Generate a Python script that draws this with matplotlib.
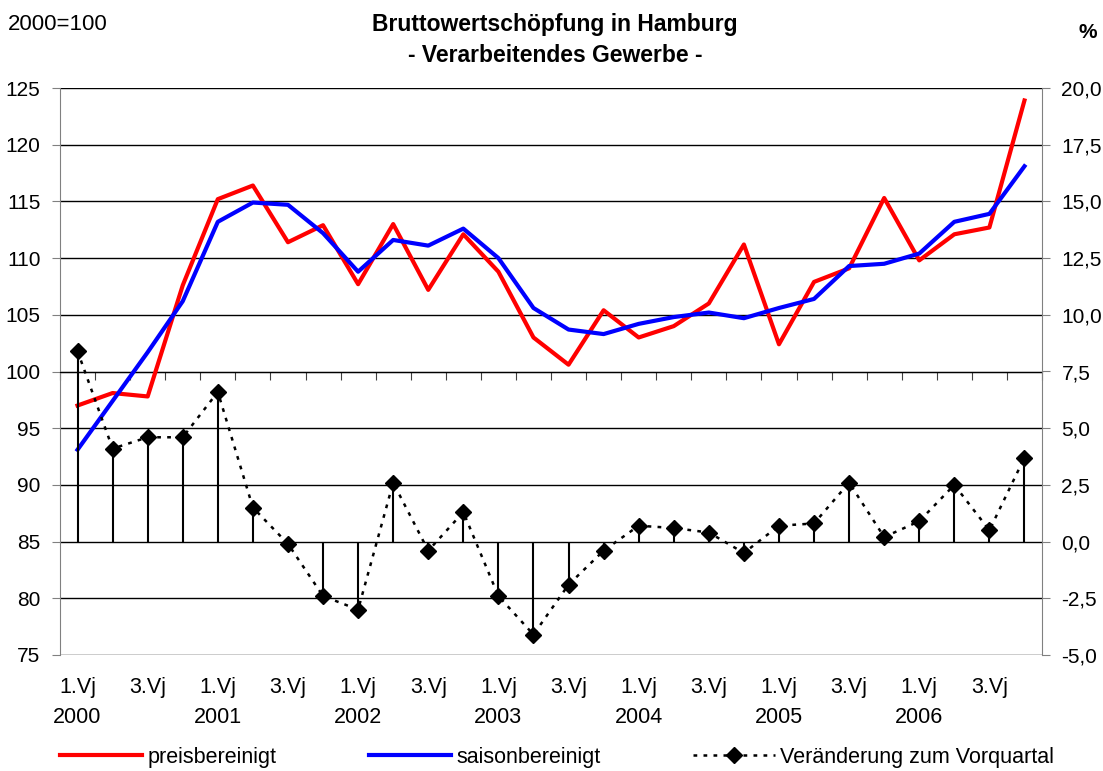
import numpy as np
import matplotlib
matplotlib.use("Agg")
import matplotlib.pyplot as plt
from matplotlib.lines import Line2D
from matplotlib.ticker import FuncFormatter

plt.rcParams['font.family'] = ['Liberation Sans', 'DejaVu Sans']

# Quartale 2000 Q1 .. 2006 Q4
years = ['2000', '2001', '2002', '2003', '2004', '2005', '2006']
quarter_names = ['1.Vj', '', '3.Vj', '']

# 2000=100
preisbereinigt = [97.0, 98.1, 97.8, 107.6, 115.2, 116.4, 111.4, 112.9, 107.7, 113.0,
                  107.2, 112.1, 108.8, 103.0, 100.6, 105.4, 103.0, 104.0, 106.0, 111.2,
                  102.4, 107.9, 109.1, 115.3, 109.8, 112.1, 112.7, 123.9]
saisonbereinigt = [93.1, 97.4, 101.7, 106.2, 113.2, 114.9, 114.7, 112.2, 108.8, 111.6,
                   111.1, 112.6, 110.0, 105.6, 103.7, 103.3, 104.2, 104.8, 105.2, 104.7,
                   105.6, 106.4, 109.3, 109.5, 110.4, 113.2, 113.9, 118.1]
# Veränderung zum Vorquartal in %
veraenderung = [8.4, 4.1, 4.6, 4.6, 6.6, 1.5, -0.1, -2.4, -3.0, 2.6,
                -0.4, 1.3, -2.4, -4.1, -1.9, -0.4, 0.7, 0.6, 0.4, -0.5,
                0.7, 0.8, 2.6, 0.2, 0.9, 2.5, 0.5, 3.7]

n = len(preisbereinigt)
x = np.arange(n)

W, H = 1103, 771
fig = plt.figure(figsize=(W / 100, H / 100), dpi=100)
ax = fig.add_axes([60 / W, 1 - 655 / H, 982 / W, 567 / H])

ax.plot(x, preisbereinigt, color='#ff0000', lw=3, zorder=3)
ax.plot(x, saisonbereinigt, color='#0000ff', lw=3, zorder=3)

ax.set_xlim(-0.5, n - 0.5)
ax.set_ylim(75, 125)
ax.set_yticks(np.arange(75, 126, 5))
ax.yaxis.grid(True, color='black', lw=1)
ax.set_axisbelow(True)
ax.tick_params(axis='y', direction='out', length=6, labelsize=15, pad=8, color='#808080')

# Rubrikenachse kreuzt bei 100
ax.spines['bottom'].set_position(('data', 100))
ax.spines['bottom'].set_color('black')
ax.set_xticks(np.arange(-0.5, n, 1))
ax.set_xticklabels([])
ax.tick_params(axis='x', direction='out', length=6, color='#404040')
ax.spines['top'].set_visible(False)
ax.spines['right'].set_visible(False)
ax.spines['left'].set_color('#808080')

# Beschriftung unten
tr = ax.get_xaxis_transform()
for i in range(n):
    q = quarter_names[i % 4]
    if q:
        ax.text(i, -0.058, q, transform=tr, ha='center', va='center', fontsize=15.5)
    if i % 4 == 0:
        ax.text(i, -0.111, years[i // 4], transform=tr, ha='center', va='center', fontsize=15.5)

ax2 = ax.twinx()
ax2.set_ylim(-5, 20)
ax2.set_yticks(np.arange(-5, 20.1, 2.5))
ax2.yaxis.set_major_formatter(FuncFormatter(lambda v, p: f"{v:.1f}".replace('.', ',')))
ax2.tick_params(axis='y', direction='out', length=6, labelsize=15, pad=8, color='#808080')
for s in ['top', 'bottom', 'left']:
    ax2.spines[s].set_visible(False)
ax2.spines['right'].set_color('#808080')

ax2.vlines(x, 0, veraenderung, color='black', lw=1.5, zorder=2)
ax2.plot(x, veraenderung, color='black', lw=1.8, linestyle=(0, (1.5, 2.5)),
         marker='D', ms=8, zorder=4)

fig.text(555 / W, 1 - 24 / H, 'Bruttowertschöpfung in Hamburg', ha='center', va='center',
         fontsize=16.5, fontweight='bold')
fig.text(555 / W, 1 - 56 / H, '- Verarbeitendes Gewerbe -', ha='center', va='center',
         fontsize=16.5, fontweight='bold')
fig.text(8 / W, 1 - 24 / H, '2000=100', ha='left', va='center', fontsize=16)
fig.text(1088 / W, 1 - 33 / H, '%', ha='center', va='center', fontsize=15, fontweight='bold')

handles = [
    Line2D([], [], color='#ff0000', lw=3),
    Line2D([], [], color='#0000ff', lw=3),
    Line2D([], [], color='black', lw=1.8, linestyle=(0, (1.5, 2.5)), marker='D', ms=8),
]
labels = ['preisbereinigt', 'saisonbereinigt', 'Veränderung zum Vorquartal']
fig.legend(handles, labels, loc='center', bbox_to_anchor=(557 / W, 1 - 757 / H), ncol=3,
           frameon=False, fontsize=15.5, handlelength=3.8, handletextpad=0.25, columnspacing=4.3)

fig.savefig('out.png', dpi=100)
